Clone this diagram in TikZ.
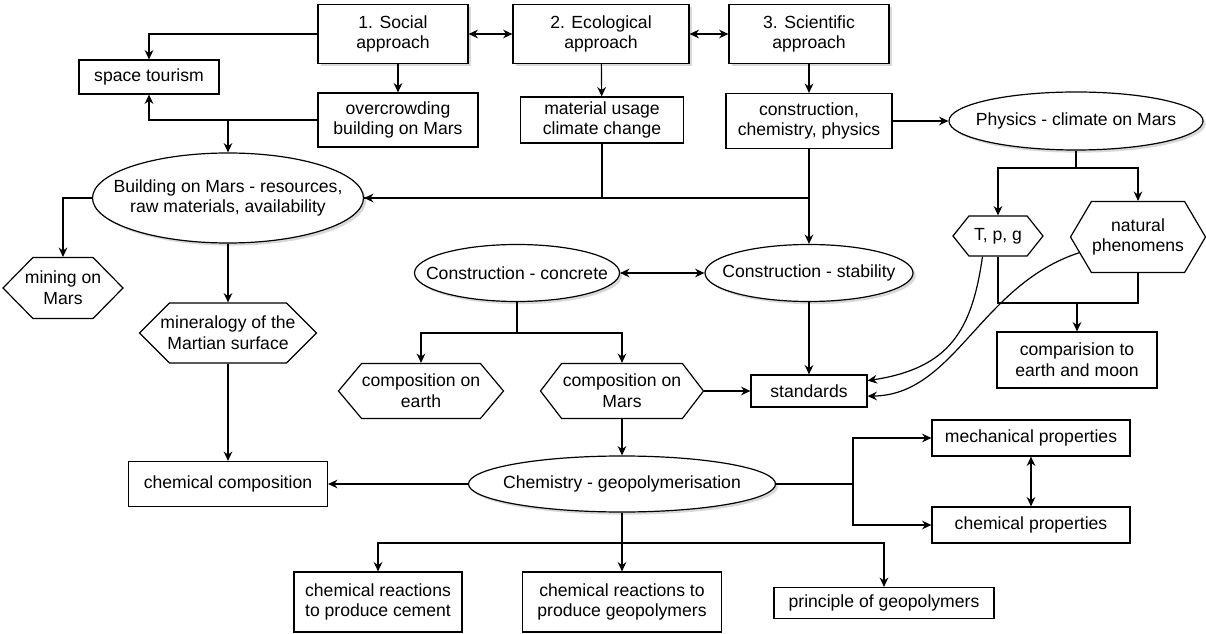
\documentclass[tikz,border=0pt]{standalone}
\usepackage{fontspec}
\setmainfont{Liberation Sans}
\usetikzlibrary{shapes.geometric,shapes.symbols,shadows,arrows.meta}
\tikzstyle{box}=[rectangle,draw,fill=white,align=center,inner sep=2pt]
\tikzstyle{boxsh}=[box,drop shadow={shadow xshift=2pt,shadow yshift=-2pt,opacity=0.3}]
\tikzstyle{oval}=[ellipse,draw,fill=white,inner sep=0pt,drop shadow={shadow xshift=2pt,shadow yshift=-2pt,opacity=0.3}]
\tikzstyle{hexa}=[signal,signal to=west and east,draw,fill=white,inner sep=0pt]

\begin{document}
\begin{tikzpicture}[x=0.75pt,y=-0.75pt,line width=0.9pt,>={Stealth[length=7pt,width=6.5pt]},
  font=\fontsize{13.2}{15.5}\selectfont,every label/.style={align=center}]
\useasboundingbox (0,0) rectangle (1206,634);
% top row
\node[boxsh,minimum width=112.5pt,minimum height=44.25pt] at (393,34) (soc) {1. Social\\approach};
\node[boxsh,minimum width=132pt,minimum height=44.25pt] at (601,34) (eco) {2. Ecological\\approach};
\node[boxsh,minimum width=120pt,minimum height=44.25pt] at (809,34) (sci) {3. Scientific\\approach};
\node[box,minimum width=105pt,minimum height=25.5pt] at (149,77) (tour) {space tourism};
\node[box,minimum width=120pt,minimum height=40.5pt] at (398,120) (over) {overcrowding\\building on Mars};
\node[box,minimum width=122.25pt,minimum height=34.5pt] at (602,120) (mat) {material usage\\climate change};
\node[box,minimum width=124.5pt,minimum height=41.25pt] at (809,121) (con) {construction,\\chemistry, physics};
\node[oval,minimum width=190.5pt,minimum height=43.5pt,label={center:Physics - climate on Mars}] at (1076,121) (phys) {};
% middle
\node[oval,minimum width=203.25pt,minimum height=67.5pt,label={center:Building on Mars - resources,\\raw materials, availability}] at (228,198) (build) {};
\node[hexa,signal pointer angle=91,minimum width=90pt,minimum height=45.75pt,label={center:mining on\\Mars}] at (63,288) (mine) {};
\node[hexa,signal pointer angle=90,minimum width=132.75pt,minimum height=45pt,label={center:mineralogy of the\\Martian surface}] at (228,333) (mineral) {};
\node[oval,minimum width=153.75pt,minimum height=42.75pt,label={center:Construction - concrete}] at (517,273) (concr) {};
\node[oval,minimum width=156pt,minimum height=42.75pt,label={center:Construction - stability}] at (809,273) (stab) {};
\node[hexa,signal pointer angle=103,minimum width=67.5pt,minimum height=30pt,label={center:T, p, g}] at (998,236) (tpg) {};
\node[hexa,signal pointer angle=119,minimum width=101.25pt,minimum height=53.25pt,label={center:natural\\phenomens}] at (1138,237) (nat) {};
\node[box,minimum width=120pt,minimum height=42pt] at (1077,360) (comp) {comparision to\\earth and moon};
\node[hexa,signal pointer angle=100,minimum width=123.75pt,minimum height=41.25pt,label={center:composition on\\earth}] at (421,391) (earth) {};
\node[hexa,signal pointer angle=105,minimum width=122.25pt,minimum height=41.25pt,label={center:composition on\\Mars}] at (622,391) (marsc) {};
\node[box,minimum width=87pt,minimum height=24pt] at (809,391) (std) {standards};
% bottom
\node[box,minimum width=148.5pt,minimum height=27pt] at (1031,438) (mech) {mechanical properties};
\node[box,minimum width=148.5pt,minimum height=27pt] at (1031,525) (chprop) {chemical properties};
\node[box,minimum width=149.25pt,minimum height=33.75pt] at (228,484) (chcomp) {chemical composition};
\node[oval,minimum width=230.25pt,minimum height=42pt,label={center:Chemistry - geopolymerisation}] at (622,484) (geo) {};
\node[box,minimum width=126pt,minimum height=45pt] at (378,602) (cem) {chemical reactions\\to produce cement};
\node[box,minimum width=149.25pt,minimum height=45pt] at (622,602) (gpol) {chemical reactions to\\produce geopolymers};
\node[box,minimum width=165pt,minimum height=23.25pt] at (884,603) (prin) {principle of geopolymers};
% connectors
\draw[<->] (soc) -- (eco);
\draw[<->] (eco) -- (sci);
\draw[->] (soc.west) -| (tour.north);
\draw[->] (over.north |- soc.south) -- (over.north);
\draw[->] (eco) -- (mat);
\draw[->] (sci) -- (con);
\draw[->] (over.west) -| (tour.south);
\draw[->] (build.north |- over.west) -- (build.north);
\draw[->] (mat.south) |- (build.east);
\draw (con.south) |- (build.east);
\draw[->] (con.south) -- (stab.north);
\draw[->] (con.east) -- (phys.west);
\coordinate (pj) at (1076,168);
\draw (phys.south) -- (pj);
\draw[->] (pj) -| (tpg.north);
\draw[->] (pj) -| (nat.north);
\coordinate (cj) at (1077,303);
\draw (tpg.south) |- (cj);
\draw (nat.south) |- (cj);
\draw[->] (cj) -- (comp.north);
\draw[->] (tpg.233) .. controls (972,330) and (950,368) .. (std.10);
\draw[->] (nat.195) .. controls (980,285) and (955,395) .. (std.-5);
\draw[->] (build.west) -| (mine.north);
\draw[->] (build.south) -- (mineral.north);
\draw[->] (mineral.south) -- (chcomp.north);
\draw[<->] (concr.east) -- (stab.west);
\draw[->] (stab.south) -- (std.north);
\coordinate (kj) at (517,333);
\draw (concr.south) -- (kj);
\draw[->] (kj) -| (earth.north);
\draw[->] (kj) -| (marsc.north);
\draw[->] (marsc.east) -- (std.west);
\draw[->] (marsc.south) -- (geo.north);
\draw[->] (geo.west) -- (chcomp.east);
\coordinate (gj) at (853,484);
\draw (geo.east) -- (gj);
\draw[->] (gj) |- (mech.west);
\draw[->] (gj) |- (chprop.west);
\draw[<->] (mech) -- (chprop);
\coordinate (bj) at (622,543);
\draw[->] (geo.south) -- (gpol.north);
\draw[->] (bj) -| (cem.north);
\draw[->] (bj) -| (prin.north);
\end{tikzpicture}
\end{document}
